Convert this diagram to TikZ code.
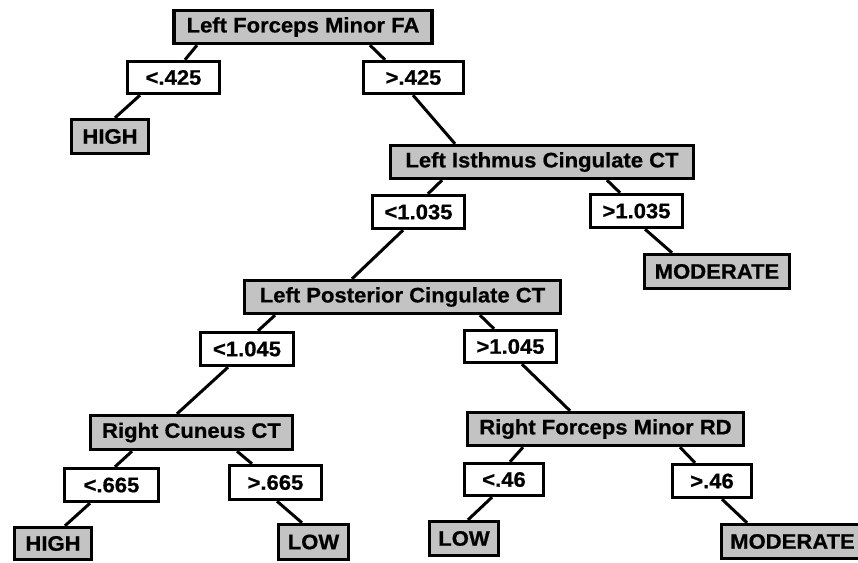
\documentclass[tikz,border=0pt]{standalone}
\usepackage{fontspec}
\setmainfont[FakeStretch=1.05,BoldFeatures={FakeBold=0.7}]{Liberation Sans}
\definecolor{boxgray}{RGB}{195,195,195}
\begin{document}
\begin{tikzpicture}[x=1pt,y=-1pt,
  base/.style={draw=black,line width=3.4pt,inner sep=0pt,
    font=\fontsize{21}{25}\selectfont\bfseries,text=black},
  feat/.style={base,fill=boxgray},
  cond/.style={base,fill=white},
  edge/.style={line width=3pt,black}]
\useasboundingbox (0,0) rectangle (858,562);
\clip (0,0) rectangle (858,562);
\fill[white] (0,0) rectangle (858,562);
% nodes
\node[feat,minimum width=258,minimum height=33] (root) at (303,27) {Left Forceps Minor FA};
\node[cond,minimum width=92,minimum height=32] (lt425) at (173.5,77.5) {<.425};
\node[cond,minimum width=100,minimum height=32] (gt425) at (413.5,77.5) {>.425};
\node[feat,minimum width=77,minimum height=34] (high1) at (110,136.5) {HIGH};
\node[feat,minimum width=303,minimum height=33] (isth) at (542,162) {Left Isthmus Cingulate CT};
\node[cond,minimum width=92,minimum height=33] (lt1035) at (418.5,212) {<1.035};
\node[cond,minimum width=92,minimum height=33] (gt1035) at (636.5,211) {>1.035};
\node[feat,minimum width=145,minimum height=34] (mod1) at (717,271.5) {MODERATE};
\node[feat,minimum width=316,minimum height=33] (post) at (402.5,297) {Left Posterior Cingulate CT};
\node[cond,minimum width=93,minimum height=33] (lt1045) at (247,349) {<1.045};
\node[cond,minimum width=92,minimum height=32] (gt1045) at (510.5,346.5) {>1.045};
\node[feat,minimum width=202,minimum height=34] (cun) at (191.5,432.5) {Right Cuneus CT};
\node[feat,minimum width=276,minimum height=33] (rfm) at (605.5,429) {Right Forceps Minor RD};
\node[cond,minimum width=94,minimum height=33] (lt665) at (111.5,485) {<.665};
\node[cond,minimum width=92,minimum height=34] (gt665) at (275.5,482.5) {>.665};
\node[feat,minimum width=77,minimum height=32] (high2) at (53,543.5) {HIGH};
\node[feat,minimum width=70,minimum height=35] (low1) at (313.5,542) {LOW};
\node[cond,minimum width=79,minimum height=32] (lt46) at (504,479.5) {<.46};
\node[cond,minimum width=79,minimum height=33] (gt46) at (712,481) {>.46};
\node[feat,minimum width=69,minimum height=34] (low2) at (464,538.5) {LOW};
\node[feat,minimum width=142,minimum height=34] (mod2) at (792.5,541.5) {MODERATE};
% edges
\draw[edge] ([xshift=-106]root.south) -- ([xshift=11.5]lt425.north);
\draw[edge] ([xshift=-33.5]lt425.south) -- ([xshift=5]high1.north);
\draw[edge] ([xshift=67]root.south) -- ([xshift=-28.5]gt425.north);
\draw[edge] ([xshift=-0.5]gt425.south) -- ([xshift=-87]isth.north);
\draw[edge] ([xshift=-100]isth.south) -- ([xshift=9.5]lt1035.north);
\draw[edge] ([xshift=-15.5]lt1035.south) -- ([xshift=-50.5]post.north);
\draw[edge] ([xshift=65]isth.south) -- ([xshift=-16.5]gt1035.north);
\draw[edge] ([xshift=8.5]gt1035.south) -- ([xshift=-45]mod1.north);
\draw[edge] ([xshift=-127.5]post.south) -- ([xshift=11]lt1045.north);
\draw[edge] ([xshift=-19]lt1045.south) -- ([xshift=-14.5]cun.north);
\draw[edge] ([xshift=77.5]post.south) -- ([xshift=-16.5]gt1045.north);
\draw[edge] ([xshift=11.5]gt1045.south) -- ([xshift=-35.5]rfm.north);
\draw[edge] ([xshift=-59.5]cun.south) -- ([xshift=3.5]lt665.north);
\draw[edge] ([xshift=-21.5]lt665.south) -- ([xshift=12]high2.north);
\draw[edge] ([xshift=45.5]cun.south) -- ([xshift=-23.5]gt665.north);
\draw[edge] ([xshift=1.5]gt665.south) -- ([xshift=-11.5]low1.north);
\draw[edge] ([xshift=-82.5]rfm.south) -- ([xshift=6]lt46.north);
\draw[edge] ([xshift=-12]lt46.south) -- ([xshift=4]low2.north);
\draw[edge] ([xshift=74.5]rfm.south) -- ([xshift=-17]gt46.north);
\draw[edge] ([xshift=10]gt46.south) -- ([xshift=-45.5]mod2.north);
\end{tikzpicture}
\end{document}
